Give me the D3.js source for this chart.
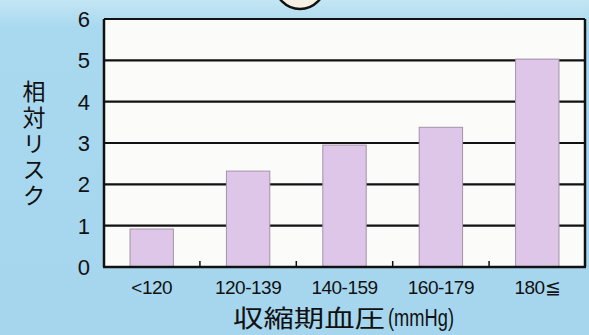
<!DOCTYPE html>
<html>
<head>
<meta charset="utf-8">
<script src="https://cdn.jsdelivr.net/npm/d3@7"></script>
<style>
  body { margin: 0; background: #a8d8ef; }
  svg { display: block; }
</style>
</head>
<body>
<div id="chart"></div>
<script>
const categories = ["<120", "120-139", "140-159", "160-179", "180≦"];
const riskValues = [0.92, 2.32, 2.95, 3.38, 5.03];
const yTicks = [0, 1, 2, 3, 4, 5, 6];

const width = 589;
const height = 335;
const plotLeft = 104, plotRight = 585, plotTop = 19, plotBottom = 267;

const svg = d3.select("#chart")
  .append("svg")
  .attr("width", width)
  .attr("height", height);

// background, a bit lighter toward the top
const grad = svg.append("defs").append("linearGradient")
  .attr("id", "bg").attr("x1", 0).attr("y1", 0).attr("x2", 0).attr("y2", 1);
grad.append("stop").attr("offset", "0%").attr("stop-color", "#c4e6f3");
grad.append("stop").attr("offset", "8%").attr("stop-color", "#a9d9ef");
grad.append("stop").attr("offset", "100%").attr("stop-color", "#a6d6ee");
svg.append("rect").attr("width", width).attr("height", height).attr("fill", "url(#bg)");

// decoration peeking in at the top
svg.append("circle")
  .attr("cx", 300).attr("cy", -16).attr("r", 25)
  .attr("fill", "#f6f0e4").attr("stroke", "#111").attr("stroke-width", 2.5);

const x = d3.scaleBand()
  .domain(categories)
  .range([plotLeft, plotRight])
  .paddingInner(0.55)
  .paddingOuter(0.27);

const y = d3.scaleLinear()
  .domain([0, 6])
  .range([plotBottom, plotTop]);

// plot area
svg.append("rect")
  .attr("x", plotLeft).attr("y", plotTop)
  .attr("width", plotRight - plotLeft).attr("height", plotBottom - plotTop)
  .attr("fill", "#fbfbfa");

// gridlines
svg.append("g")
  .selectAll("line")
  .data(yTicks)
  .join("line")
  .attr("x1", plotLeft)
  .attr("x2", plotRight)
  .attr("y1", (d) => y(d))
  .attr("y2", (d) => y(d))
  .attr("stroke", "#111")
  .attr("stroke-width", 2.2);

// bars
svg.append("g")
  .selectAll("rect")
  .data(riskValues)
  .join("rect")
  .attr("x", (d, i) => x(categories[i]))
  .attr("y", (d) => y(d))
  .attr("width", x.bandwidth())
  .attr("height", (d) => y(0) - y(d))
  .attr("fill", "#dec6e8")
  .attr("stroke", "#a492aa")
  .attr("stroke-width", 1);

// frame
svg.append("line")
  .attr("x1", plotLeft).attr("x2", plotLeft)
  .attr("y1", plotTop).attr("y2", plotBottom)
  .attr("stroke", "#111").attr("stroke-width", 2.5);
svg.append("line")
  .attr("x1", plotRight).attr("x2", plotRight)
  .attr("y1", plotTop).attr("y2", plotBottom)
  .attr("stroke", "#111").attr("stroke-width", 2.5);
svg.append("line")
  .attr("x1", plotLeft - 1).attr("x2", plotRight + 1)
  .attr("y1", plotBottom).attr("y2", plotBottom)
  .attr("stroke", "#111").attr("stroke-width", 2.5);

// small ticks between categories
svg.append("g")
  .selectAll("line")
  .data(categories.slice(1))
  .join("line")
  .attr("x1", (d) => x(d) - x.step() * x.paddingInner() / 2)
  .attr("x2", (d) => x(d) - x.step() * x.paddingInner() / 2)
  .attr("y1", plotBottom)
  .attr("y2", plotBottom - 6)
  .attr("stroke", "#111")
  .attr("stroke-width", 1.5);

const latin = "'Liberation Sans', Arial, sans-serif";

// y tick labels
svg.append("g")
  .selectAll("text")
  .data(yTicks)
  .join("text")
  .attr("x", 90)
  .attr("y", (d) => y(d))
  .attr("dy", "0.36em")
  .attr("text-anchor", "end")
  .attr("font-family", latin)
  .attr("font-size", 22)
  .attr("fill", "#111")
  .text((d) => d);

// x tick labels
svg.append("g")
  .selectAll("text")
  .data(categories)
  .join("text")
  .attr("x", (d) => x(d) + x.bandwidth() / 2)
  .attr("y", 294)
  .attr("text-anchor", "middle")
  .attr("font-family", latin)
  .attr("font-size", 19)
  .attr("letter-spacing", -0.5)
  .attr("fill", "#111")
  .text((d) => d);

// y title, written vertically
svg.append("text")
  .attr("x", 34)
  .attr("y", 80)
  .attr("writing-mode", "vertical-rl")
  .attr("text-orientation", "upright")
  .attr("letter-spacing", 3)
  .attr("font-family", "'Noto Sans CJK JP', sans-serif")
  .attr("font-size", 23)
  .attr("fill", "#111")
  .text("相対リスク");

// x title
svg.append("text")
  .attr("x", 233)
  .attr("y", 327)
  .attr("font-family", "'Noto Sans CJK JP', sans-serif")
  .attr("font-size", 24)
  .attr("textLength", 152)
  .attr("lengthAdjust", "spacingAndGlyphs")
  .attr("fill", "#111")
  .text("収縮期血圧");
svg.append("text")
  .attr("x", 388)
  .attr("y", 326)
  .attr("font-family", latin)
  .attr("font-size", 23)
  .attr("textLength", 66)
  .attr("lengthAdjust", "spacingAndGlyphs")
  .attr("fill", "#111")
  .text("(mmHg)");
</script>
</body>
</html>
